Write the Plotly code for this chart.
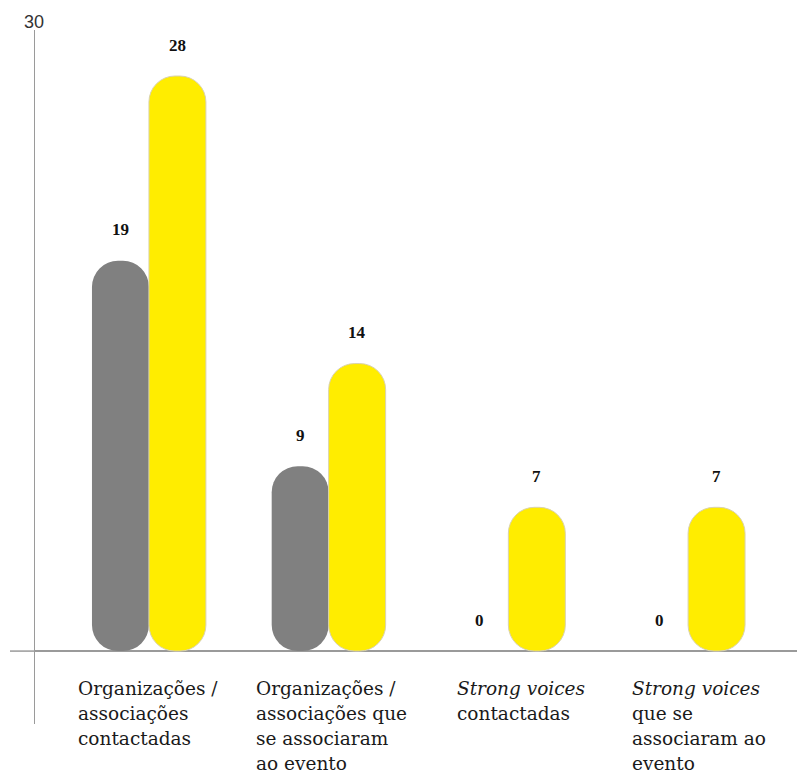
import plotly.graph_objects as go

# Data
categories = [
    ["Organizações /", "associações", "contactadas"],
    ["Organizações /", "associações que", "se associaram", "ao evento"],
    ["<i>Strong voices</i>", "contactadas"],
    ["<i>Strong voices</i>", "que se", "associaram ao", "evento"],
]
series_gray = [19, 9, 0, 0]
series_yellow = [28, 14, 7, 7]
y_top_tick = 30

GRAY = "#808080"
YELLOW = "#FFED00"
SERIF = "DejaVu Serif"

x = list(range(len(categories)))
fig = go.Figure()

# Explicit base so the rounding is applied at both ends of each bar
styles = (
    (series_gray, GRAY, dict(width=0), "a"),
    (series_yellow, YELLOW, dict(width=1, color="#d9d2b0"), "b"),
)
for values, color, outline, group in styles:
    fig.add_trace(go.Bar(
        x=x, y=values, base=[0] * len(values),
        marker=dict(color=color, line=outline, cornerradius=26),
        offsetgroup=group, hoverinfo="skip", showlegend=False,
    ))

bar_w = 0.317
annotations = []
# value labels above each bar
for i in x:
    for val, off in ((series_gray[i], -bar_w / 2), (series_yellow[i], bar_w / 2)):
        annotations.append(dict(
            x=i + off, y=val, xref="x", yref="y", text=f"<b>{val}</b>",
            showarrow=False, yshift=31, yanchor="middle",
            font=dict(family="Liberation Serif", size=17, color="#111111"),
        ))

# category labels, one annotation per line
label_shift = [-72, -74, -52, -57]
for i, lines in enumerate(categories):
    for k, line in enumerate(lines):
        annotations.append(dict(
            x=i, y=0, xref="x", yref="y", text=line, showarrow=False,
            xanchor="left", yanchor="middle", align="left", borderpad=0,
            xshift=label_shift[i], yshift=-37 - 25.2 * k,
            font=dict(family=SERIF, size=18.5, color="#1a1a1a"),
        ))

# top tick label of the value axis
annotations.append(dict(
    x=0, y=1, xref="paper", yref="paper", text=str(y_top_tick),
    showarrow=False, xanchor="center", yanchor="bottom", yshift=-4, xshift=-1,
    font=dict(family="Liberation Sans", size=18, color="#333333"),
))

fig.update_layout(
    width=797, height=774,
    margin=dict(l=35, r=0, t=30, b=50),
    paper_bgcolor="white", plot_bgcolor="white",
    barmode="group", bargap=1 - 2 * bar_w, bargroupgap=0,
    xaxis=dict(range=[-0.634, 3.606], showgrid=False, showticklabels=False,
               zeroline=False, showline=False),
    yaxis=dict(range=[-3.55, 30.24], showgrid=False, showticklabels=False,
               zeroline=True, zerolinecolor="#9a9a9a", zerolinewidth=1.5,
               showline=True, linecolor="#9a9a9a", linewidth=1.2),
    annotations=annotations,
    shapes=[dict(type="line", xref="paper", yref="y", x0=-25 / 762, x1=0,
                 y0=0, y1=0, line=dict(color="#9a9a9a", width=1.5))],
)

fig.write_html("out.html")
